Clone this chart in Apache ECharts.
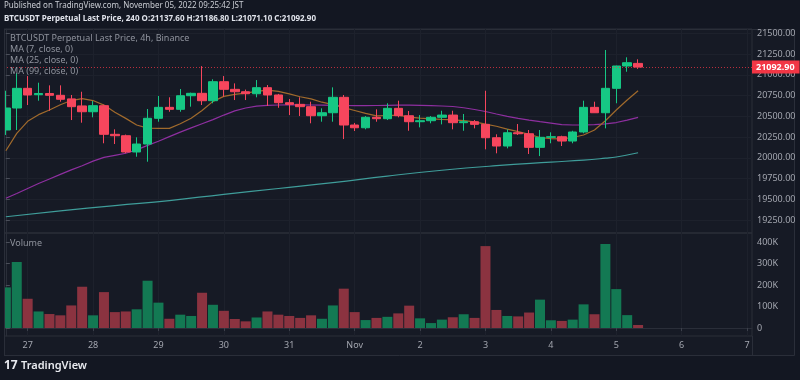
<!DOCTYPE html>
<html><head><meta charset="utf-8">
<script src="https://cdn.jsdelivr.net/npm/echarts@6/dist/echarts.min.js"></script>
<style>html,body{margin:0;padding:0;background:#131722;}#c{width:800px;height:380px;}</style>
</head><body><div id="c"></div>
<script>
// ---- data (4h candles, Oct 26 20:00 ... Nov 5 08:00 JST) ----
const opens  = [20335,20600,20837,20760,20775,20753,20710,20625,20555,20628,20283,20266,20070,20166,20476,20608,20584,20748,20777,20688,20917,20825,20796,20772,20845,20757,20664,20644,20616,20507,20543,20729,20395,20362,20488,20471,20596,20507,20435,20447,20488,20515,20423,20435,20403,20242,20142,20302,20290,20126,20247,20254,20202,20311,20608,20543,20837,21106,21137.6];
const closes = [20600,20837,20757,20775,20753,20705,20616,20555,20628,20283,20266,20070,20166,20476,20608,20584,20748,20777,20688,20917,20825,20796,20772,20845,20757,20664,20644,20616,20507,20543,20729,20395,20362,20488,20471,20596,20507,20435,20447,20488,20515,20423,20435,20403,20242,20142,20302,20290,20126,20247,20254,20202,20311,20608,20543,20837,21106,21146,21092.9];
const lows   = [20275,20335,20636,20688,20567,20676,20455,20423,20488,20175,20166,20055,20013,19953,20435,20555,20555,20616,20636,20657,20736,20696,20696,20729,20624,20603,20515,20503,20416,20435,20435,20226,20323,20343,20435,20455,20488,20326,20367,20416,20403,20343,20326,20355,20102,20054,20114,20275,20046,20021,20175,20142,20175,20295,20540,20355,20657,21037,21071.1];
const highs  = [20808,21020,20985,20905,20873,20873,20757,20796,20684,20640,20343,20280,20247,20588,20745,20729,20829,20785,21105,20946,20985,20897,20822,20937,20877,20770,20708,20729,20676,20596,20849,20757,20420,20503,20584,20657,20688,20564,20515,20503,20567,20567,20528,20455,20808,20283,20343,20407,20335,20335,20307,20266,20326,20688,20676,21299,21110,21211,21186.8];
const volumes = [189000,307000,136000,77000,65000,59000,105000,192000,59000,167000,74000,77000,87000,220000,118000,43000,62000,56000,164000,108000,80000,42000,31000,49000,77000,62000,56000,47000,59000,43000,105000,183000,74000,37000,47000,52000,68000,104000,45000,23000,39000,50000,64000,47000,381000,84000,56000,54000,72000,132000,36000,33000,39000,110000,64000,391000,181000,60000,14000];
const ma7  = [20085,20295,20440,20520,20576,20640,20690,20712,20690,20635,20550,20475,20395,20358,20355,20355,20410,20476,20570,20680,20740,20765,20780,20800,20815,20800,20770,20736,20710,20670,20640,20605,20570,20535,20505,20510,20515,20490,20478,20470,20462,20456,20448,20432,20405,20380,20345,20315,20282,20245,20232,20228,20245,20275,20335,20447,20576,20696,20808];
const ma25 = [19512,19570,19630,19690,19745,19800,19855,19905,19960,20005,20030,20055,20095,20150,20200,20255,20310,20360,20410,20460,20515,20565,20600,20622,20632,20636,20638,20638,20636,20634,20632,20630,20628,20628,20630,20632,20634,20634,20632,20628,20624,20618,20603,20582,20558,20528,20500,20476,20455,20435,20418,20400,20395,20395,20400,20410,20425,20455,20488];
const ma99Idx = [0,5,10,15,20,25,30,35,40,45,50,53,55,56,58];
const ma99Val = [19290,19360,19425,19485,19560,19630,19700,19780,19850,19905,19948,19972,19995,20010,20061];
const dayLabels = ['27','28','29','30','31','Nov','2','3','4','5','6','7'];
const firstDayCandle = 2, candlesPerDay = 6;
const priceTicks = [19250,19500,19750,20000,20250,20500,20750,21000,21250,21500];
const volTicks = [0,100000,200000,300000,400000];
const lastPrice = 21092.9;

// ---- build ----
const UP = '#16c784', DOWN = '#f6465d', VUP = '#137953', VDOWN = '#8b3340';
const idx = closes.map((_, i) => i);
const dayTicks = dayLabels.map((_, k) => firstDayCandle + k * candlesPerDay);
const candleData = idx.map(i => [i, opens[i], closes[i], lows[i], highs[i]]);
const volData = idx.map(i => ({value: [i, volumes[i]], itemStyle: {color: closes[i] >= opens[i] ? VUP : VDOWN}}));
const XMIN = -0.17, XMAX = 68.45;
const gridCol = '#1d212c', lblCol = '#a3a6af', font = 'Noto Sans';

const xCommon = {
  type: 'value', min: XMIN, max: XMAX,
  axisTick: {show: false, customValues: dayTicks},
  axisLabel: {show: false, customValues: dayTicks},
  axisLine: {show: false},
  splitLine: {show: true, lineStyle: {color: gridCol, width: 1}}
};
const txt = (x, y, s, f, c) => ({type: 'text', left: x, top: y, z: 100, style: {text: s, fill: c, font: f}});

const option = {
  backgroundColor: '#131722',
  animation: false,
  grid: [
    {left: 4, right: 48, top: 29, height: 204, show: true, borderColor: '#2a2e39', borderWidth: 1, backgroundColor: 'transparent'},
    {left: 4, right: 48, top: 233, height: 103, show: true, borderColor: '#2a2e39', borderWidth: 1, backgroundColor: 'transparent'}
  ],
  xAxis: [
    Object.assign({}, xCommon, {gridIndex: 0}),
    Object.assign({}, xCommon, {gridIndex: 1,
      axisTick: {show: true, customValues: dayTicks, length: 3, lineStyle: {color: '#3c404b'}},
      axisLabel: {show: true, customValues: dayTicks, margin: 5, color: lblCol, fontSize: 9, fontFamily: font,
        formatter: v => dayLabels[Math.round((v - firstDayCandle) / candlesPerDay)]},
      axisLine: {show: true, lineStyle: {color: '#2a2e39'}}
    })
  ],
  yAxis: [
    {gridIndex: 0, type: 'value', position: 'right', min: 19094, max: 21552,
      axisLine: {show: true, lineStyle: {color: '#2a2e39'}},
      axisTick: {show: true, customValues: priceTicks, length: 4, lineStyle: {color: '#4a4e59'}},
      axisLabel: {customValues: priceTicks, margin: 5, color: lblCol, fontSize: 9, fontFamily: font, formatter: v => v.toFixed(2)},
      splitLine: {show: true, lineStyle: {color: gridCol}}},
    {gridIndex: 1, type: 'value', position: 'right', min: -37200, max: 442000,
      axisLine: {show: true, lineStyle: {color: '#2a2e39'}},
      axisTick: {show: true, customValues: volTicks, length: 4, lineStyle: {color: '#4a4e59'}},
      axisLabel: {customValues: volTicks, margin: 5, color: lblCol, fontSize: 9, fontFamily: font, formatter: v => v === 0 ? '0' : (v / 1000) + 'K'},
      splitLine: {show: false}}
  ],
  graphic: [
    {type: 'rect', z: -10, shape: {x: 4.5, y: 29.5, width: 790, height: 326}, style: {fill: '#161a25', stroke: '#2a2e39', lineWidth: 1}},
    {type: 'rect', z: 90, shape: {x: 0, y: 29, width: 4, height: 328}, style: {fill: '#131722'}},
    {type: 'line', z: 91, shape: {x1: 4.5, y1: 29, x2: 4.5, y2: 356}, style: {stroke: '#2a2e39', lineWidth: 1}},
    {type: 'line', z: 10, shape: {x1: 752.5, y1: 336, x2: 752.5, y2: 356}, style: {stroke: '#2a2e39', lineWidth: 1}},
    txt(4, 2, 'Published on TradingView.com, November 05, 2022 09:25:42 JST', '8px "Noto Sans"', '#c9ccd3'),
    txt(4, 15, 'BTCUSDT Perpetual Last Price, 240 O:21137.60 H:21186.80 L:21071.10 C:21092.90', 'bold 8px "Noto Sans"', '#e0e3eb'),
    txt(10, 34, 'BTCUSDT Perpetual Last Price, 4h, Binance', '9px "Noto Sans"', '#8f939d'),
    txt(10, 45, 'MA (7, close, 0)', '9px "Noto Sans"', '#8f939d'),
    txt(10, 56, 'MA (25, close, 0)', '9px "Noto Sans"', '#8f939d'),
    txt(10, 67, 'MA (99, close, 0)', '9px "Noto Sans"', '#8f939d'),
    txt(10, 239, 'Volume', '9px "Noto Sans"', '#8f939d'),
    txt(4, 360, '17', 'bold 12px "Noto Sans"', '#e8eaef'),
    txt(21, 360, 'TradingView', '600 11px "Noto Sans"', '#e8eaef')
  ],
  series: [
    {type: 'line', name: 'MA99', xAxisIndex: 0, yAxisIndex: 0, showSymbol: false, smooth: true, clip: true,
      data: ma99Idx.map((x, k) => [x, ma99Val[k]]), lineStyle: {color: '#3f9d9a', width: 1.2}, z: 3},
    {type: 'line', name: 'MA25', xAxisIndex: 0, yAxisIndex: 0, showSymbol: false, clip: true,
      data: idx.map(i => [i, ma25[i]]), lineStyle: {color: '#8e2fa0', width: 1.2}, z: 3},
    {type: 'line', name: 'MA7', xAxisIndex: 0, yAxisIndex: 0, showSymbol: false, clip: true,
      data: idx.map(i => [i, ma7[i]]), lineStyle: {color: '#a06a2c', width: 1.2}, z: 3},
    {type: 'candlestick', xAxisIndex: 0, yAxisIndex: 0, barWidth: 9, z: 4, clip: true,
      data: candleData,
      itemStyle: {color: UP, color0: DOWN, borderColor: UP, borderColor0: DOWN, borderColorDoji: UP, borderWidth: 1},
      markLine: {silent: true, symbol: ['none', 'none'],
        lineStyle: {color: 'rgba(242,54,69,0.75)', type: [1, 2], width: 1},
        label: {show: true, position: 'end', distance: 0, formatter: lastPrice.toFixed(2),
          backgroundColor: '#f23645', color: '#ffffff', fontSize: 9, fontWeight: 'bold', fontFamily: font, padding: [2, 5, 2, 4]},
        data: [{yAxis: lastPrice}]}},
    {type: 'bar', xAxisIndex: 1, yAxisIndex: 1, barWidth: 10, data: volData, z: 3, clip: true}
  ]
};
const chart = echarts.init(document.getElementById('c'));
chart.setOption(option);
</script></body></html>
